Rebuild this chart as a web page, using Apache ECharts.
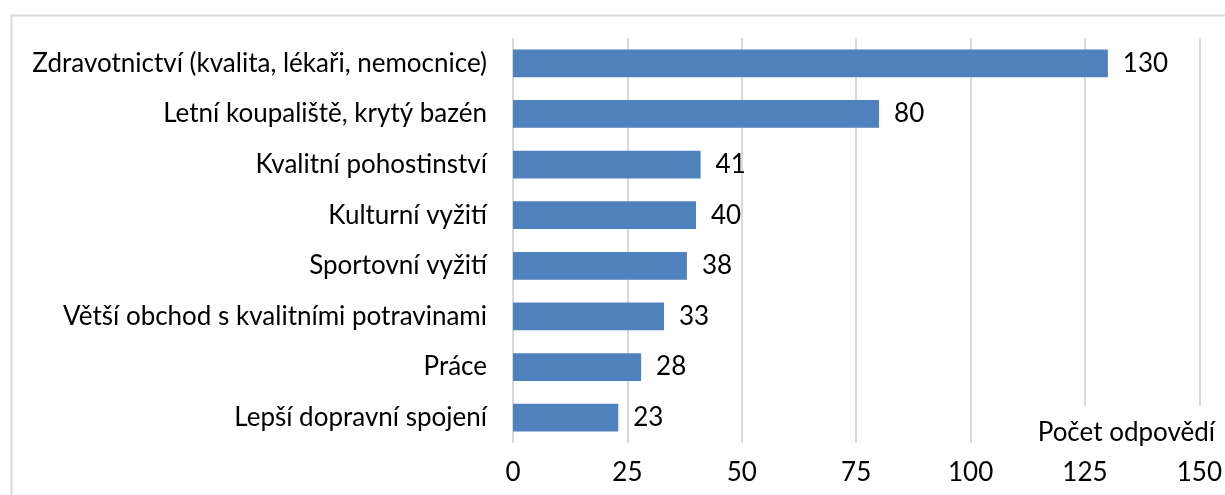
<!DOCTYPE html>
<html>
<head>
<meta charset="utf-8">
<script src="https://cdn.jsdelivr.net/npm/echarts@6/dist/echarts.min.js"></script>
<style>
  html, body { margin: 0; padding: 0; background: #fff; }
  #chart { width: 1225px; height: 495px; }
</style>
</head>
<body>
<div id="chart"></div>
<script>
// categories from bottom to top (ECharts category y axis starts at the bottom)
const categories = [
  "Lepší dopravní spojení",
  "Práce",
  "Větší obchod s kvalitními potravinami",
  "Sportovní vyžití",
  "Kulturní vyžití",
  "Kvalitní pohostinství",
  "Letní koupaliště, krytý bazén",
  "Zdravotnictví (kvalita, lékaři, nemocnice)"
];
const counts = [23, 28, 33, 38, 40, 41, 80, 130];
const axisName = "Počet odpovědí";

const font = "Lato, 'Liberation Sans', sans-serif";
const fontSize = 26;

const chart = echarts.init(document.getElementById("chart"));

const option = {
  animation: false,
  graphic: [
    {
      type: "rect",
      left: 9,
      top: 13,
      shape: { width: 1240, height: 520 },
      style: { fill: "none", stroke: "#d9d9d9", lineWidth: 2 },
      z: -1
    },
    {
      // axis title sits on a white box over the grid lines
      type: "text",
      right: 10,
      top: 406,
      z: 100,
      style: {
        text: axisName,
        fontSize: fontSize,
        fontFamily: font,
        fill: "#000",
        backgroundColor: "#fff",
        padding: [14, 0, 0, 8]
      }
    }
  ],
  grid: { left: 513, right: 25, top: 38, bottom: 52, containLabel: false },
  xAxis: {
    type: "value",
    min: 0,
    max: 150,
    interval: 25,
    axisLine: { show: false },
    axisTick: { show: false },
    splitLine: { lineStyle: { color: "#d9d9d9", width: 2 } },
    axisLabel: { margin: 17, color: "#000", fontSize: fontSize, fontFamily: font }
  },
  yAxis: {
    type: "category",
    data: categories,
    axisLine: { show: false },
    axisTick: { show: false },
    axisLabel: { margin: 26, color: "#000", fontSize: fontSize, fontFamily: font, padding: [4, 0, 0, 0] }
  },
  series: [
    {
      type: "bar",
      data: counts,
      barWidth: "55%",
      itemStyle: { color: "#4f81bd" },
      label: {
        show: true,
        position: "right",
        distance: 15,
        color: "#000",
        fontSize: fontSize,
        fontFamily: font,
        padding: [4, 0, 0, 0]
      }
    }
  ]
};

chart.setOption(option);
</script>
</body>
</html>
